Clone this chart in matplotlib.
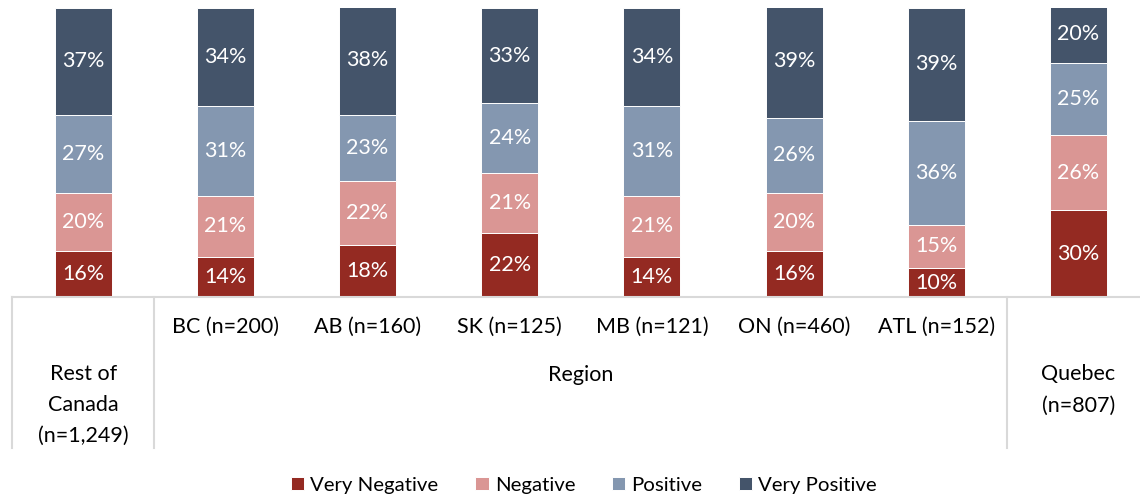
import matplotlib
matplotlib.use("Agg")
import matplotlib.pyplot as plt
import numpy as np

plt.rcParams['font.family'] = ['Lato', 'DejaVu Sans']

categories = ["Rest of\nCanada\n(n=1,249)", "BC (n=200)", "AB (n=160)", "SK (n=125)",
              "MB (n=121)", "ON (n=460)", "ATL (n=152)", "Quebec\n(n=807)"]
group_label = "Region"

series_names = ["Very Negative", "Negative", "Positive", "Very Positive"]
very_negative = [16, 14, 18, 22, 14, 16, 10, 30]
negative = [20, 21, 22, 21, 21, 20, 15, 26]
positive = [27, 31, 23, 24, 31, 26, 36, 25]
very_positive = [37, 34, 38, 33, 34, 39, 39, 20]

colors = ["#942A22", "#DA9694", "#8497B0", "#44546A"]

W, H = 1140, 498
fig = plt.figure(figsize=(W / 100, H / 100), dpi=100)
ax = fig.add_axes([12 / W, (H - 297) / H, 1 - 12 / W, (297 - 8) / H])

x = np.arange(len(categories))
bottom = np.zeros(len(categories))
series = [very_negative, negative, positive, very_positive]
for name, vals, col in zip(series_names, series, colors):
    vals = np.array(vals, dtype=float)
    ax.bar(x, vals, width=0.40, bottom=bottom, color=col, label=name,
           edgecolor="white", linewidth=0.7)
    for xi, b, v in zip(x, bottom, vals):
        ax.text(xi, b + v / 2, f"{int(v)}%", ha="center", va="center",
                color="white", fontsize=15.5)
    bottom += vals

step = 142.2
ax.set_xlim(-0.5, -0.5 + (W - 12) / step)
ax.set_ylim(0, 100)

for s in ["top", "right", "left"]:
    ax.spines[s].set_visible(False)
ax.spines["bottom"].set_color("#D9D9D9")
ax.spines["bottom"].set_linewidth(1.5)
ax.set_yticks([])
ax.set_xticks([])

# separators of the category table under the axis
sep_bottom = -(448 - 297) / 289
trans = ax.get_xaxis_transform()
for sx in [-0.5, 0.5, 6.5]:
    ax.plot([sx, sx], [0, sep_bottom], transform=trans, color="#D9D9D9",
            linewidth=1.5, clip_on=False)

label_kw = dict(transform=trans, ha="center", va="center", fontsize=15.5,
                color="#000000", linespacing=1.7)
for i in range(1, 7):
    ax.text(i, -(327 - 297) / 289, categories[i], **label_kw)
ax.text(3.5, -(375 - 297) / 289, group_label, **label_kw)
ax.text(0, -(405 - 297) / 289, categories[0], **label_kw)
ax.text(7, -(390 - 297) / 289, categories[7], **label_kw)

fig.legend(loc="center", bbox_to_anchor=(584 / W, 1 - 485 / H), ncol=4,
           frameon=False, fontsize=14.7, handlelength=0.65, handleheight=0.65,
           handletextpad=0.3, columnspacing=1.8)

fig.savefig("out.png", dpi=100)
